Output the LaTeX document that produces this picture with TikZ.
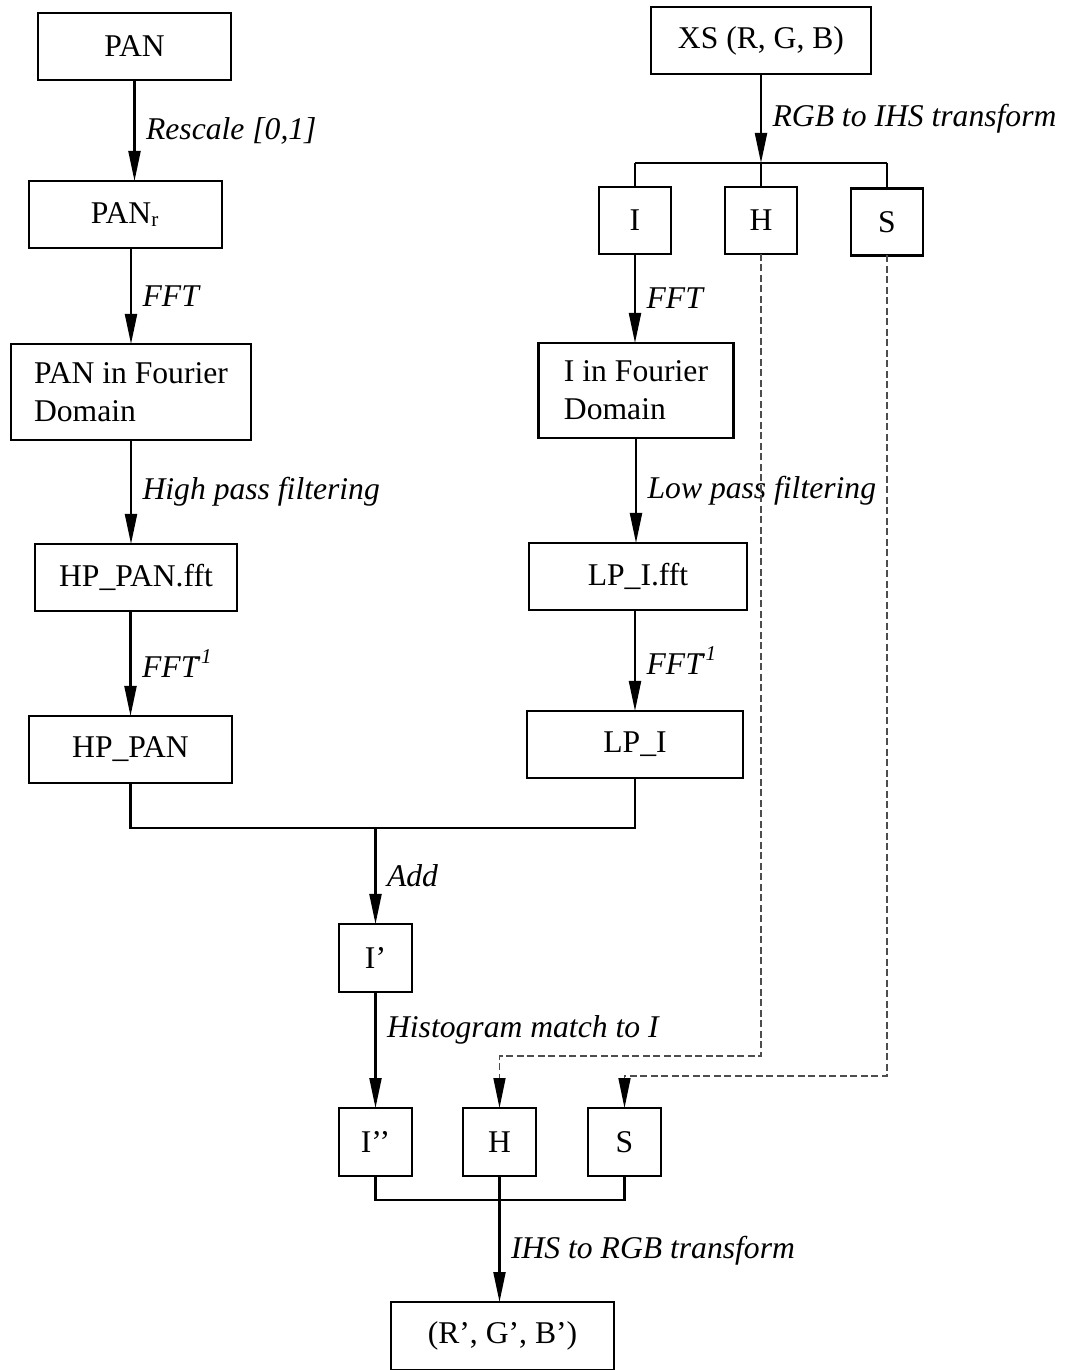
\documentclass[tikz,border=0pt]{standalone}
\usepackage{fontspec}
\setmainfont{Liberation Serif}
\usetikzlibrary{arrows.meta, positioning}
\definecolor{ink}{HTML}{000000}
\definecolor{trace}{HTML}{4D4D4D}
\tikzset{
  box/.style   = {draw=ink, line width=0.6pt, fill=white, minimum width=#1,
                  minimum height=6.7mm, inner sep=0pt, outer sep=0pt,
                  align=center, font=\fontsize{9}{10.8}\selectfont},
  box/.default = 7.2mm,
  wide/.style  = {box=#1, align=left, minimum height=9.6mm},
  tall/.style  = {box=#1, minimum height=6.8mm},
  flow/.style  = {-{Triangle[length=3mm,width=1.2mm]}, draw=ink, line width=0.6pt},
  hint/.style  = {-{Triangle[length=3mm,width=1.2mm,color=ink]}, draw=trace,
                  line width=0.45pt, dash pattern=on 0.7mm off 0.35mm},
  wire/.style  = {draw=ink, line width=0.6pt},
  lab/.style   = {font=\fontsize{9}{10.8}\selectfont\itshape, anchor=west,
                  inner xsep=3pt},
}

\begin{document}
\begin{tikzpicture}[x=0.1mm, y=-0.1mm, node distance=10mm]
\useasboundingbox (0,0) rectangle (1066,1370);

% PAN side
\node[box=19.3mm] (pan) at (134.5,46.5) {PAN};
\node[box=19.3mm, below=10.1mm of pan, xshift=-0.9mm] (panr) {PAN\textsubscript{r}};
\node[wide=24mm, below=9.6mm of panr, xshift=0.55mm] (pfour) {PAN in Fourier\\Domain};
\node[box=20.2mm, below=10.4mm of pfour, xshift=0.5mm] (hpfft) {HP\_PAN.fft};
\node[box=20.3mm, below=10.5mm of hpfft, xshift=-0.55mm] (hp) {HP\_PAN};

% XS side
\node[box=22mm, right=42mm of pan, yshift=0.6mm] (xs) {XS (R, G, B)};
\node[box, below=11.3mm of xs, xshift=-12.6mm] (ci) {I};
\node[box, right=5.4mm of ci] (ch) {H};
\node[box, right=5.4mm of ch, yshift=-0.15mm] (cs) {S};
\node[wide=19.5mm, minimum height=9.5mm, below=8.9mm of ci, xshift=0.1mm] (ifour) {I in Fourier\\Domain};
\node[box=21.8mm, below=10.5mm of ifour, xshift=0.2mm] (lpfft) {LP\_I.fft};
\node[box=21.6mm, below=10.1mm of lpfft, xshift=-0.3mm] (lp) {LP\_I};

% fused part
\node[tall=7.3mm, below=14.1mm of hp, xshift=24.5mm] (ip) {I’};
\node[tall=7.3mm, below=11.6mm of ip] (ipp) {I’’};
\node[tall=7.3mm, right=5.1mm of ipp] (hh) {H};
\node[tall=7.3mm, right=5.2mm of hh] (ss) {S};
\node[tall=22.3mm, below=12.6mm of hh, xshift=0.3mm] (rgb) {(R’, G’, B’)};

\coordinate (split) at ([yshift=-8.9mm]xs.south);
\coordinate (sum) at ([yshift=-4.5mm]hp.south);
\coordinate (mix) at ([yshift=-2.4mm]hh.south);

\draw[flow] (pan.south) -- (pan.south |- panr.north) node[lab, midway] {Rescale [0,1]};
\draw[flow] (pfour.north |- panr.south) -- (pfour.north) node[lab, midway] {FFT};
\draw[flow] (pfour.south) -- (pfour.south |- hpfft.north) node[lab, midway] {High pass filtering};
\draw[flow] (hp.north |- hpfft.south) -- (hp.north) node[lab, midway] {FFT\textsuperscript{\kern-1.2pt-1}};

\draw[flow] (xs.south) -- (split) node[lab, midway] {RGB to IHS transform};
\draw[wire] (split -| ci) -- (split -| cs);
\draw[wire] (split -| ci) -- (ci.north);
\draw[wire] (split -| ch) -- (ch.north);
\draw[wire] (split -| cs) -- (cs.north);
\draw[flow] (ci.south) -- (ci.south |- ifour.north) node[lab, midway] {FFT};
\draw[flow] (ifour.south) -- (ifour.south |- lpfft.north) node[lab, midway] {Low pass filtering};
\draw[flow] (lp.north |- lpfft.south) -- (lp.north) node[lab, midway] {FFT\textsuperscript{\kern-1.2pt-1}};

\draw[wire] (hp.south) -- (sum) -| (lp.south);
\draw[flow] (sum -| ip.north) -- (ip.north) node[lab, midway] {Add};
\draw[flow] (ip.south) -- (ipp.north) node[lab, pos=0.33] {Histogram match to I};

\draw[hint] (ch.south) |- ([yshift=5.2mm]hh.north) -- (hh.north);
\draw[hint] (cs.south) |- ([yshift=3.2mm]ss.north) -- (ss.north);

\draw[wire] (ipp.south) -- (ipp.south |- mix) -- (ss.south |- mix) -- (ss.south);
\draw[wire] (hh.south) -- (mix);
\draw[flow] (mix) -- (rgb.north -| mix) node[lab, midway] {IHS to RGB transform};

\end{tikzpicture}
\end{document}
